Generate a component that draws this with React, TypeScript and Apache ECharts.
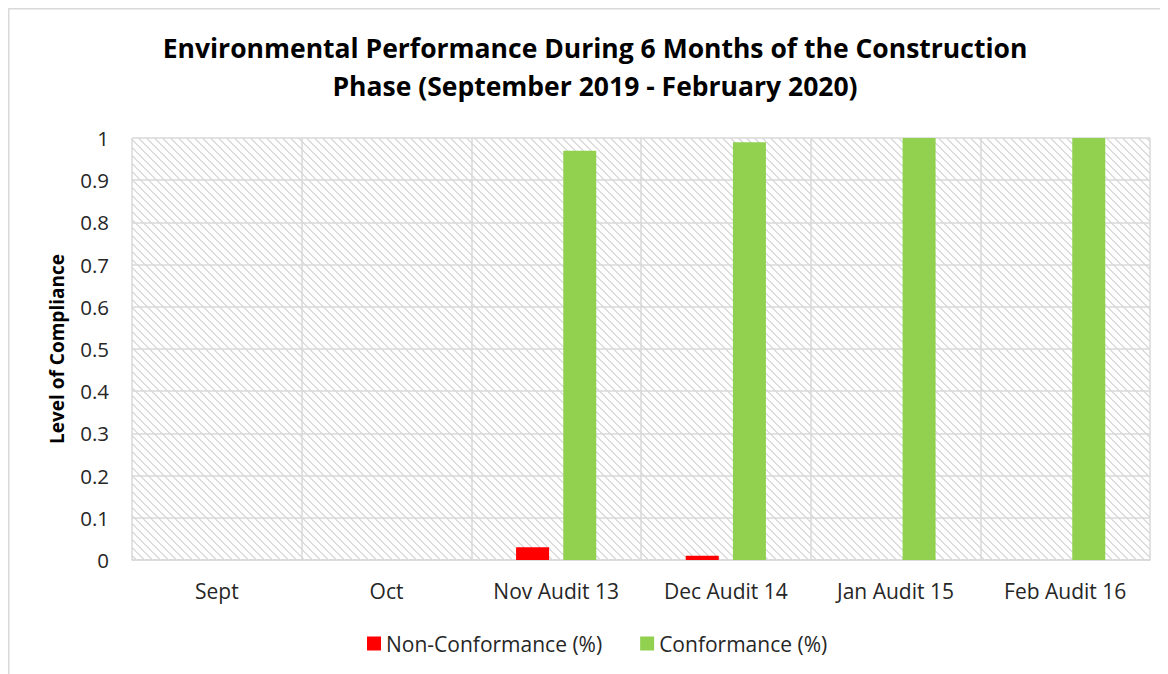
import React, { useEffect, useRef } from "react";
import * as echarts from "echarts";

const categories = ["Sept", "Oct", "Nov Audit 13", "Dec Audit 14", "Jan Audit 15", "Feb Audit 16"];
const nonConformance = [0, 0, 0.03, 0.01, 0, 0];
const conformance = [0, 0, 0.97, 0.99, 1, 1];
const seriesNames = ["Non-Conformance (%)", "Conformance (%)"];
const titleText = "Environmental Performance During 6 Months of the Construction\nPhase (September 2019 - February 2020)";
const yAxisName = "Level of Compliance";

const FONT = "'Open Sans', 'Noto Sans', sans-serif";

function makeHatch(): HTMLCanvasElement {
  const c = document.createElement("canvas");
  c.width = 8;
  c.height = 8;
  const ctx = c.getContext("2d")!;
  ctx.fillStyle = "#ffffff";
  ctx.fillRect(0, 0, 8, 8);
  ctx.fillStyle = "#dcdcdc";
  for (let y = 0; y < 8; y++) {
    for (let x = 0; x < 8; x++) {
      if ((x - y + 8) % 8 < 2) ctx.fillRect(x, y, 1, 1);
    }
  }
  return c;
}

export default function App() {
  const ref = useRef<HTMLDivElement>(null);
  useEffect(() => {
    document.body.style.overflow = "hidden";
    const chart = echarts.init(ref.current!, null, { renderer: "svg" });
    const hatch = makeHatch();
    chart.setOption({
      animation: false,
      textStyle: { fontFamily: FONT },
      title: {
        text: titleText,
        left: 582,
        top: 16,
        textAlign: "center",
        textStyle: { fontFamily: FONT, fontSize: 26.5, fontWeight: "bold", color: "#000", lineHeight: 38 },
      },
      graphic: [
        {
          type: "rect",
          silent: true,
          z: -10,
          shape: { x: 0.75, y: 0.75, width: 3000, height: 3000 },
          style: { fill: "none", stroke: "#d9d9d9", lineWidth: 1.5 },
        },
      ],
      legend: {
        data: seriesNames,
        left: 354,
        top: 620,
        itemWidth: 14,
        itemHeight: 14,
        itemGap: 38,
        icon: "rect",
        textStyle: { fontFamily: FONT, fontSize: 21, color: "#262626" },
      },
      grid: {
        left: 124,
        top: 130,
        width: 1018,
        height: 422,
        show: true,
        borderWidth: 0,
        backgroundColor: { image: hatch, repeat: "repeat" } as any,
      },
      xAxis: {
        type: "category",
        data: categories,
        axisLine: { lineStyle: { color: "#d9d9d9", width: 1.5 } },
        axisTick: { show: false },
        splitLine: { show: true, lineStyle: { color: "#d9d9d9", width: 1.5 } },
        axisLabel: { fontFamily: FONT, fontSize: 21, color: "#262626", margin: 20 },
      },
      yAxis: {
        type: "value",
        min: 0,
        max: 1,
        interval: 0.1,
        name: yAxisName,
        nameLocation: "middle",
        nameGap: 66,
        nameTextStyle: { fontFamily: FONT, fontSize: 19, fontWeight: "bold", color: "#000" },
        axisLine: { show: false },
        axisTick: { show: false },
        splitLine: { show: true, lineStyle: { color: "#d9d9d9", width: 1.5 } },
        axisLabel: { fontFamily: FONT, fontSize: 20.5, color: "#262626", margin: 23 },
      },
      series: [
        {
          name: seriesNames[0],
          type: "bar",
          data: nonConformance,
          barWidth: 33,
          barGap: "43%",
          itemStyle: { color: "#ff0000" },
        },
        {
          name: seriesNames[1],
          type: "bar",
          data: conformance,
          barWidth: 33,
          itemStyle: { color: "#92d050" },
        },
      ],
    });
    return () => chart.dispose();
  }, []);
  return <div ref={ref} style={{ width: 1160, height: 666 }} />;
}
